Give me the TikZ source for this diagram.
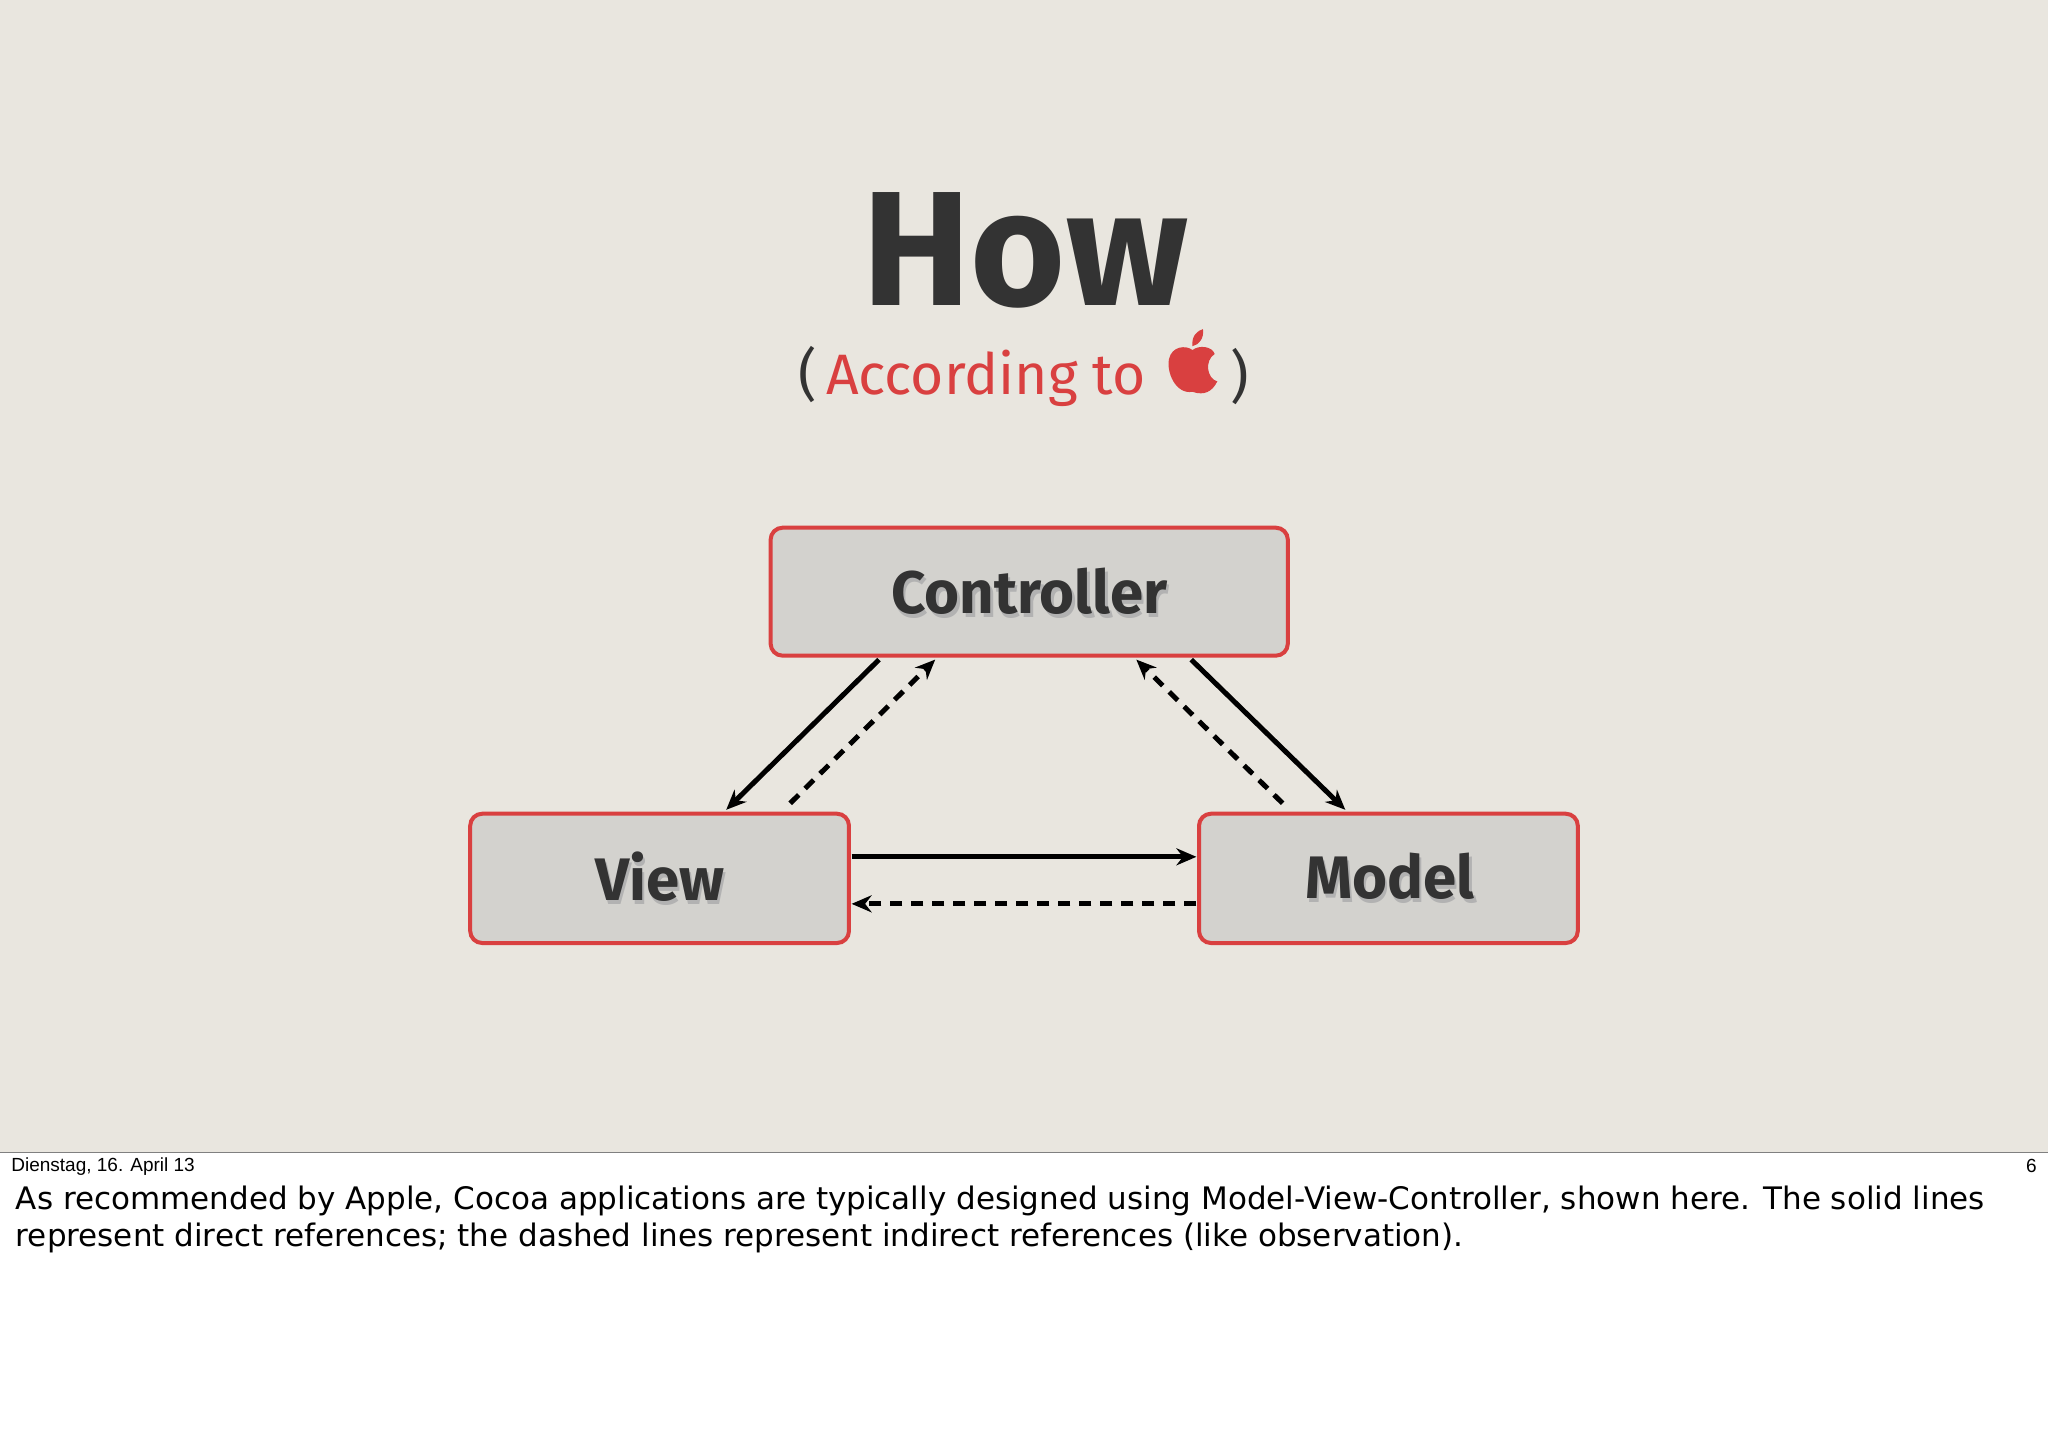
\documentclass[tikz,border=0pt]{standalone}
\usepackage{fontspec}
\setmainfont{Fira Sans}
\newfontfamily\notefont{DejaVu Sans}
\newfontfamily\footfont{Liberation Sans}
\usetikzlibrary{arrows.meta}
\definecolor{bg}{HTML}{E9E6DF}
\definecolor{appred}{HTML}{D94040}
\definecolor{boxfill}{HTML}{D3D2CE}
\definecolor{dark}{HTML}{333333}
\begin{document}
\begin{tikzpicture}[x=1.306pt,y=-1.306pt,
  mvcbox/.style={draw=appred,line width=4pt,fill=boxfill,rounded corners=12pt,inner sep=0pt},
  lbl/.style={font=\fontsize{60}{60}\selectfont\bfseries,text=dark},
  arr/.style={-{Stealth[length=20pt,width=17pt]},line width=5pt,black},
  darr/.style={arr,dash pattern=on 12pt off 9pt}]
\useasboundingbox (0,0) rectangle (1568,1104);
\fill[white] (0,0) rectangle (1568,1104);
\fill[bg] (0,0) rectangle (1568,882);
\draw[gray,line width=1pt] (0,882) -- (1568,882);
\node[font=\fontsize{163}{163}\selectfont\bfseries,text=dark] (how) at (785,192) {How};
\node[font=\fontsize{57}{57}\selectfont,text=appred,anchor=east] (acc) at (880,288) {\textcolor{dark}{(}\,According to};
\node[font=\fontsize{57}{57}\selectfont,text=dark] (cp) at (949,288) {)};
\fill[appred] (913,300) .. controls (900,302) and (893,285) .. (895,275)
  .. controls (897,265) and (908,264) .. (913,268)
  .. controls (918,264) and (928,265) .. (930,271)
  .. controls (922,276) and (924,290) .. (932,292)
  .. controls (928,300) and (922,303) .. (913,300) -- cycle;
\fill[appred] (913,265) .. controls (912,257) and (917,253) .. (921,252) .. controls (922,259) and (918,264) .. (913,265) -- cycle;
\path[mvcbox] (590,404) rectangle (986,502);
\path[mvcbox] (360,623) rectangle (650,722);
\path[mvcbox] (918,623) rectangle (1208,722);
\node[lbl,text=gray!60] at (790,456) {Controller};
\node[lbl] (ctrl) at (788,453) {Controller};
\node[lbl,text=gray!60] at (507,674) {View};
\node[lbl] (view) at (505,671) {View};
\node[lbl,text=gray!60] at (1066,674) {Model};
\node[lbl] (model) at (1064,671) {Model};
\coordinate (c1) at (673,505); \coordinate (v1) at (556,620);
\coordinate (v2) at (605,615); \coordinate (c2) at (716,505);
\coordinate (c3) at (912,505); \coordinate (m1) at (1030,620);
\coordinate (m2) at (982,615); \coordinate (c4) at (870,505);
\coordinate (v3) at (652,656); \coordinate (m3) at (916,656);
\coordinate (m4) at (916,692); \coordinate (v4) at (652,692);
\draw[arr] (c1) -- (v1);
\draw[darr] (v2) -- (c2);
\draw[arr] (c3) -- (m1);
\draw[darr] (m2) -- (c4);
\draw[arr] (v3) -- (m3);
\draw[darr] (m4) -- (v4);
\node[font=\footfont\fontsize{19}{19}\selectfont,anchor=west] (date) at (6,893) {Dienstag, 16. April 13};
\node[font=\footfont\fontsize{19}{19}\selectfont,anchor=east] (pg) at (1562,893) {6};
\node[font=\notefont\fontsize{31}{36.5}\selectfont,anchor=north west,align=left,inner sep=0pt] (note) at (12,908)
{As recommended by Apple, Cocoa applications are typically designed using Model-View-Controller, shown here. The solid lines\\
represent direct references; the dashed lines represent indirect references (like observation).};
\end{tikzpicture}
\end{document}
